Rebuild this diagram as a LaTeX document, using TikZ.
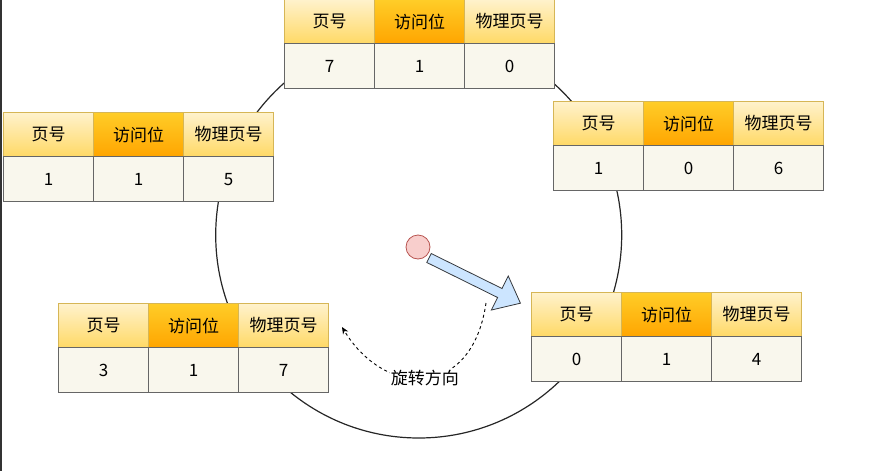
\documentclass[tikz,border=0pt]{standalone}
\usepackage{fontspec}
\setmainfont{Noto Sans CJK SC}
\usetikzlibrary{positioning,arrows.meta,calc}
\definecolor{hdrline}{HTML}{D6B656}
\definecolor{hdrtop}{HTML}{FFF2CC}
\definecolor{hdrbot}{HTML}{FFD966}
\definecolor{bittop}{HTML}{FFCD28}
\definecolor{bitbot}{HTML}{FFA500}
\definecolor{cellfill}{HTML}{F9F7ED}
\definecolor{cellline}{HTML}{666666}
\definecolor{ptrfill}{HTML}{F8CECC}
\definecolor{ptrline}{HTML}{B85450}
\definecolor{arrfill}{HTML}{CCE5FF}
\definecolor{arrline}{HTML}{36393D}
\begin{document}
\begin{tikzpicture}[x=1pt, y=-1pt,
  cell/.style={draw, anchor=north west, minimum width=90pt, minimum height=44pt, inner sep=0pt, font=\fontsize{17}{19}\selectfont},
  hdr/.style={cell, draw=hdrline, line width=1pt, top color=hdrtop, bottom color=hdrbot},
  bit/.style={hdr, top color=bittop, bottom color=bitbot},
  val/.style={cell, draw=cellline, line width=1.3pt, fill=cellfill, minimum height=45pt},
  >={Stealth[length=7pt, width=6pt]}]
\useasboundingbox (0,0) rectangle (874,471);
\fill[black!80] (0,0) rectangle (2,471);
% clock ring
\node[circle, draw=black!85, line width=1.2pt, minimum size=406pt, inner sep=0pt] (ring) at (418.7,235) {};
% page table entries
\foreach \n/\x/\y/\a/\b/\c in {top/284/-1/7/1/0, lup/3/112/1/1/5, rup/553/101/1/0/6, llo/58/303/3/1/7, rlo/531/292/0/1/4} {
  \node[hdr] (\n-h1) at (\x,\y)     {页号};
  \node[bit] (\n-h2) at (\x+90,\y)  {访问位};
  \node[hdr] (\n-h3) at (\x+180,\y) {物理页号};
  \node[val] (\n-v1) at (\x,\y+44)     {\a};
  \node[val] (\n-v2) at (\x+90,\y+44)  {\b};
  \node[val] (\n-v3) at (\x+180,\y+44) {\c};
}
% hand of the clock
\node[circle, draw=ptrline, fill=ptrfill, line width=0.8pt, minimum size=24pt, inner sep=0pt] (ptr) at (418,247) {};
\begin{scope}[shift={(429,258)}, rotate=-26.3]
  \draw[draw=arrline, fill=arrfill, line width=0.8pt, line join=miter]
    (0,5) -- (79,5) -- (79,19) -- (102,0) -- (79,-19) -- (79,-5) -- (0,-5) -- cycle;
\end{scope}
% direction of rotation
\coordinate (rotS) at (486,303);
\coordinate (rotE) at (342,327);
\draw[dashed, line width=0.9pt, ->] (rotS) .. controls (472,400) and (385,398) .. (rotE)
  node[pos=0.5, fill=white, inner sep=1pt, font=\fontsize{17}{19}\selectfont] (rotL) {旋转方向};
\end{tikzpicture}
\end{document}
